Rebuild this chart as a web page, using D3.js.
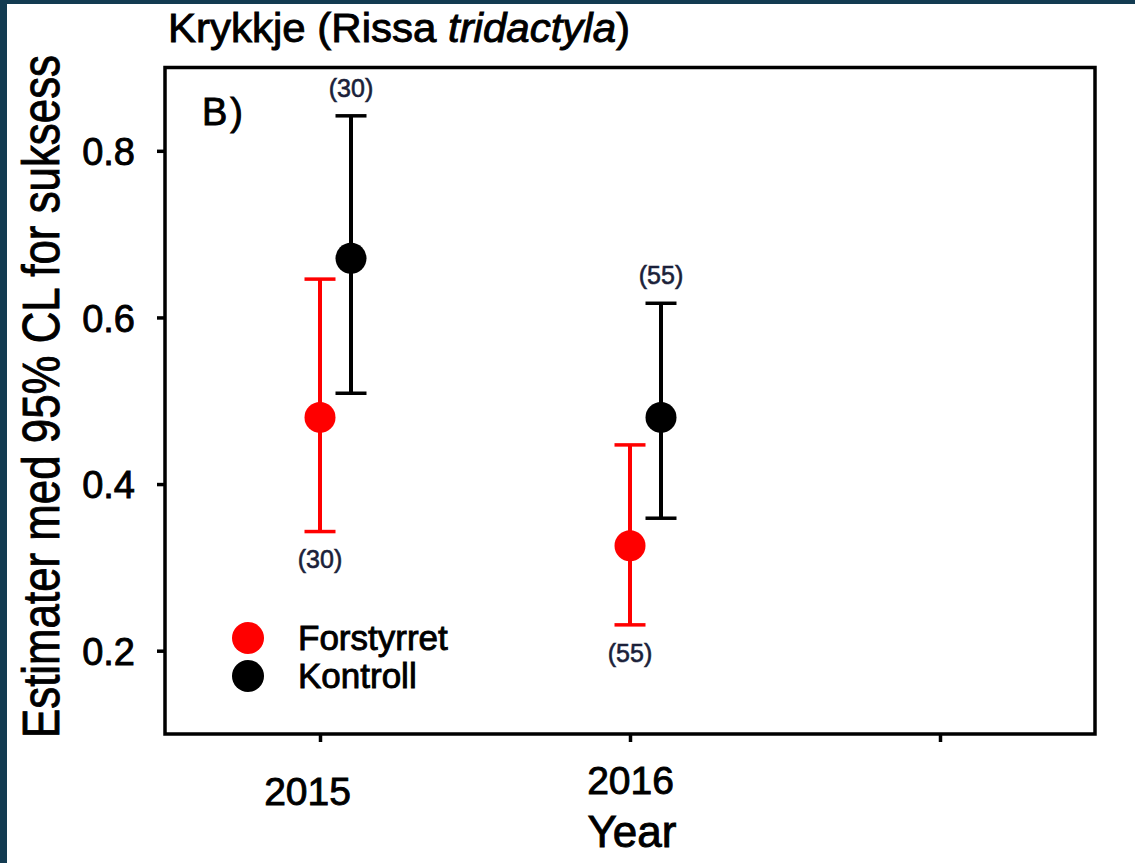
<!DOCTYPE html>
<html lang="no">
<head>
<meta charset="utf-8">
<title>Krykkje (Rissa tridactyla)</title>
<script src="https://cdn.jsdelivr.net/npm/d3@7"></script>
<style>
body {
  margin: 0;
  background-color: #ffffff;
}
svg text {
  font-family: "Liberation Sans", Arial, sans-serif;
  fill: #000;
  stroke: #000;
  stroke-width: 0.9px;
}
.axis path {
  display: none;
}
.axis line {
  stroke: #000;
  stroke-width: 3.5px;
}
svg text.nlab {
  fill: #1b1f3a;
  stroke: #1b1f3a;
  stroke-width: 0.6px;
}
</style>
</head>
<body>
<svg width="1135" height="863"></svg>
<script>
// data
var years = ["2015", "2016"];
var xTickLabels = ["2015", "2016", ""];
var yTicks = [0.2, 0.4, 0.6, 0.8];
var groups = ["Forstyrret", "Kontroll"];
var colors = ["#ff0000", "#000000"];

var forstyrretEst = [0.480, 0.326];
var forstyrretLo = [0.343, 0.231];
var forstyrretHi = [0.646, 0.447];
var kontrollEst = [0.671, 0.480];
var kontrollLo = [0.509, 0.359];
var kontrollHi = [0.842, 0.617];
var nForstyrret = [30, 55];
var nKontroll = [30, 55];

var svg = d3.select("svg"),
    margin = {top: 67.5, right: 40, bottom: 129, left: 165},
    width = +svg.attr("width") - margin.left - margin.right,
    height = +svg.attr("height") - margin.top - margin.bottom;

// dark slide edge (top + left)
svg.append("rect").attr("x", 0).attr("y", 0).attr("width", 1135).attr("height", 4).attr("fill", "#133b51");
svg.append("rect").attr("x", 0).attr("y", 0).attr("width", 7).attr("height", 863).attr("fill", "#133b51");

var x = d3.scaleLinear().domain([0.5, 3.5]).range([margin.left, margin.left + width]);
var y = d3.scaleLinear().domain([0.1, 0.9]).range([margin.top + height, margin.top]);

var series = [
  {name: groups[0], color: colors[0], off: 0, est: forstyrretEst, lo: forstyrretLo, hi: forstyrretHi, n: nForstyrret},
  {name: groups[1], color: colors[1], off: 0.1, est: kontrollEst, lo: kontrollLo, hi: kontrollHi, n: nKontroll}
];

// axes
var gy = svg.append("g")
    .attr("class", "y axis")
    .attr("transform", "translate(" + x(0.5) + ",0)")
    .call(d3.axisLeft(y).tickValues(yTicks).tickSize(8).tickPadding(22).tickFormat(d3.format(".1f")));
gy.selectAll(".tick text").attr("font-size", 38).attr("dy", "0.36em");

var gx = svg.append("g")
    .attr("class", "x axis")
    .attr("transform", "translate(0," + y(0.1) + ")")
    .call(d3.axisBottom(x).tickValues([1, 2, 3]).tickSize(8).tickFormat(function(d) { return xTickLabels[d - 1]; }));
gx.selectAll(".tick text")
    .attr("font-size", 39)
    .attr("dy", null)
    .attr("y", function(d) { return d === 1 ? 71 : 60; })
    .attr("x", function(d) { return d === 1 ? -13 : 0; });

// box
svg.append("rect")
    .attr("x", x(0.5)).attr("y", y(0.9))
    .attr("width", x(3.5) - x(0.5)).attr("height", y(0.1) - y(0.9))
    .attr("fill", "none").attr("stroke", "#000").attr("stroke-width", 3.5);

// error bars and points
series.forEach(function(s) {
  var g = svg.append("g");
  var rows = years.map(function(yr, i) {
    return {xv: i + 1 + s.off, est: s.est[i], lo: s.lo[i], hi: s.hi[i], n: s.n[i]};
  });
  g.selectAll(".bar").data(rows).enter().append("line")
      .attr("x1", function(d) { return x(d.xv); })
      .attr("x2", function(d) { return x(d.xv); })
      .attr("y1", function(d) { return y(d.lo); })
      .attr("y2", function(d) { return y(d.hi); })
      .attr("stroke", s.color).attr("stroke-width", 4);
  ["lo", "hi"].forEach(function(k) {
    g.selectAll(".cap-" + k).data(rows).enter().append("line")
        .attr("x1", function(d) { return x(d.xv - 0.05); })
        .attr("x2", function(d) { return x(d.xv + 0.05); })
        .attr("y1", function(d) { return y(d[k]); })
        .attr("y2", function(d) { return y(d[k]); })
        .attr("stroke", s.color).attr("stroke-width", 3.5);
  });
  g.selectAll("circle").data(rows).enter().append("circle")
      .attr("cx", function(d) { return x(d.xv); })
      .attr("cy", function(d) { return y(d.est); })
      .attr("r", 15.5)
      .attr("fill", s.color);
  // sample sizes: control above upper limit, disturbed below lower limit
  g.selectAll(".nlab").data(rows).enter().append("text")
      .attr("class", "nlab")
      .attr("x", function(d) { return x(d.xv); })
      .attr("y", function(d) { return s.off > 0 ? y(d.hi) - 28 : y(d.lo) + 28; })
      .attr("dy", "0.35em")
      .attr("text-anchor", "middle")
      .attr("font-size", 25)
      .text(function(d) { return "(" + d.n + ")"; });
});

// panel letter
svg.append("text").attr("x", 202).attr("y", 125).attr("font-size", 38)
    .attr("letter-spacing", 3).text("B)");

// legend
var leg = svg.append("g");
series.forEach(function(s, i) {
  leg.append("circle").attr("cx", 248).attr("cy", 638 + i * 38).attr("r", 16).attr("fill", s.color);
  leg.append("text").attr("x", 298).attr("y", 650 + i * 38).attr("font-size", 35).text(s.name);
});

// title
var title = svg.append("text").attr("x", 168).attr("y", 42).attr("font-size", 40)
    .attr("textLength", 462).attr("lengthAdjust", "spacingAndGlyphs");
title.append("tspan").text("Krykkje (Rissa ");
title.append("tspan").attr("font-style", "italic").text("tridactyla");
title.append("tspan").text(")");

// axis titles
svg.append("text")
    .attr("transform", "translate(59,738) rotate(-90)")
    .attr("font-size", 51)
    .attr("textLength", 683).attr("lengthAdjust", "spacingAndGlyphs")
    .text("Estimater med 95% CL for suksess");

svg.append("text")
    .attr("x", 632).attr("y", 847)
    .attr("text-anchor", "middle")
    .attr("font-size", 44)
    .text("Year");
</script>
</body>
</html>
